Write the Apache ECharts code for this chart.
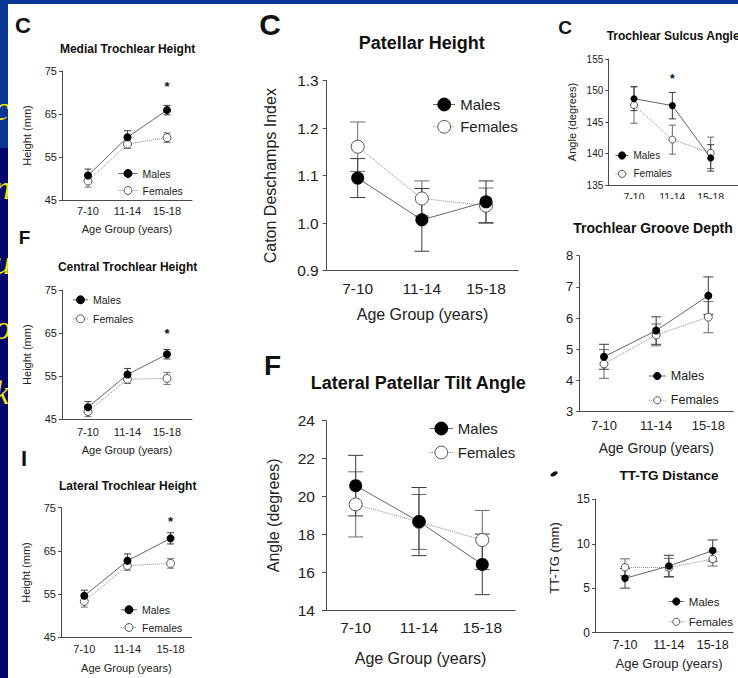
<!DOCTYPE html>
<html><head><meta charset="utf-8">
<script src="https://cdn.jsdelivr.net/npm/echarts@6/dist/echarts.min.js"></script>
<style>html,body{margin:0;padding:0;background:#fff}#c{width:738px;height:678px}</style>
</head><body><div id="c"></div>
<script>
// ---------- DATA ----------
const categories = ['7-10', '11-14', '15-18'];
const seriesNames = ['Males', 'Females'];

const medialMales = [50.7, 59.6, 65.9];
const medialMalesErr = [1.5, 1.5, 1.1];
const medialFemales = [49.4, 58.0, 59.5];
const medialFemalesErr = [1.4, 1.0, 1.1];
const medialStars = [[2, 71.3]];

const centralMales = [47.8, 55.4, 60.1];
const centralMalesErr = [1.3, 1.4, 1.1];
const centralFemales = [46.8, 54.3, 54.5];
const centralFemalesErr = [1.2, 1.0, 1.4];
const centralStars = [[2, 65.0]];

const lateralMales = [54.6, 62.7, 67.9];
const lateralMalesErr = [1.3, 1.6, 1.3];
const lateralFemales = [53.3, 61.6, 62.1];
const lateralFemalesErr = [1.3, 1.1, 1.1];
const lateralStars = [[2, 71.9]];

const patellarMales = [1.095, 1.007, 1.045];
const patellarMalesErr = [0.041, 0.066, 0.044];
const patellarFemales = [1.161, 1.052, 1.037];
const patellarFemalesErr = [0.052, 0.037, 0.037];

const tiltMales = [20.57, 18.67, 16.41];
const tiltMalesErr = [1.6, 1.8, 1.6];
const tiltFemales = [19.58, 18.65, 17.7];
const tiltFemalesErr = [1.72, 1.45, 1.56];

const sulcusMales = [148.7, 147.6, 139.3];
const sulcusMalesErr = [1.9, 2.1, 2.1];
const sulcusFemales = [147.7, 142.2, 140.1];
const sulcusFemalesErr = [2.9, 2.3, 2.5];
const sulcusStars = [[1, 151.8]];

const grooveMales = [4.76, 5.6, 6.72];
const grooveMalesErr = [0.4, 0.44, 0.6];
const grooveFemales = [4.53, 5.46, 6.03];
const grooveFemalesErr = [0.46, 0.35, 0.5];

const tttgMales = [6.11, 7.5, 9.23];
const tttgMalesErr = [1.1, 1.2, 1.2];
const tttgFemales = [7.35, 7.31, 8.29];
const tttgFemalesErr = [0.95, 1.05, 0.8];

const titles = ['Medial Trochlear Height', 'Central Trochlear Height', 'Lateral Trochlear Height',
  'Patellar Height', 'Lateral Patellar Tilt Angle', 'Trochlear Sulcus Angle', 'Trochlear Groove Depth', 'TT-TG Distance'];
const yNames = ['Height (mm)', 'Height (mm)', 'Height (mm)', 'Caton Deschamps Index', 'Angle (degrees)', 'Angle (degrees)', '', 'TT-TG (mm)'];
const xName = 'Age Group (years)';
const yRanges = [[45, 75, 10], [45, 75, 10], [45, 75, 10], [0.9, 1.3, 0.1], [14, 24, 2], [135, 155, 5], [3, 8, 1], [0, 15, 5]];
const panelLetters = ['C', 'F', 'I', 'C', 'F', 'C'];

// ---------- LAYOUT / STYLE ----------
const FONT = '"Liberation Sans", Arial, Helvetica, sans-serif';
const panelData = [
  [medialMales, medialMalesErr, medialFemales, medialFemalesErr, medialStars],
  [centralMales, centralMalesErr, centralFemales, centralFemalesErr, centralStars],
  [lateralMales, lateralMalesErr, lateralFemales, lateralFemalesErr, lateralStars],
  [patellarMales, patellarMalesErr, patellarFemales, patellarFemalesErr, []],
  [tiltMales, tiltMalesErr, tiltFemales, tiltFemalesErr, []],
  [sulcusMales, sulcusMalesErr, sulcusFemales, sulcusFemalesErr, sulcusStars],
  [grooveMales, grooveMalesErr, grooveFemales, grooveFemalesErr, []],
  [tttgMales, tttgMalesErr, tttgFemales, tttgFemalesErr, []]
];
const L = [
  {grid:[62,71,130,129], xr:[-0.658,2.633], xl:11, yl:11, nf:11, lf:10.5, xGap:23.5, yGap:29.5, xm:5.5, ym:5, sym:8, cap:7, leg:[118,168,19,10,6], tick:3, dec:0, sf:13, showX:true},
  {grid:[62,290,130,129.3], xr:[-0.658,2.633], xl:11, yl:11, nf:11, lf:10.5, xGap:25, yGap:29.5, xm:7, ym:5, sym:8, cap:7, leg:[72.5,294.3,15,10,8], tick:3, dec:0, sf:13, showX:true},
  {grid:[61,507.7,130.7,129.6], xr:[-0.54,2.49], xl:11, yl:11, nf:11, lf:10.5, xGap:25, yGap:29.5, xm:6, ym:5, sym:8, cap:7, leg:[120.5,604.3,16,10,6.7], tick:3, dec:0, sf:13, showX:true},
  {grid:[326.7,80.7,191.6,190], xr:[-0.483,2.503], xl:15.5, yl:15.5, nf:16, lf:15, xGap:36, yGap:48, xm:9.5, ym:8, sym:13, cap:15, leg:[432.7,97,22,16,7.3], tick:4, dec:1, sf:15, showX:true},
  {grid:[326,420.7,189,189.3], xr:[-0.469,2.517], xl:15.5, yl:15.5, nf:16, lf:15, xGap:40, yGap:44.7, xm:9.7, ym:11, sym:13, cap:15, leg:[429.3,421,23,16,9], tick:4, dec:0, sf:15, showX:true},
  {grid:[608.3,59,129.7,126], xr:[-0.671,2.713], xl:10.5, yl:10, nf:11, lf:10, xGap:30, yGap:31, xm:6.4, ym:5, sym:7, cap:7, leg:[615,150.5,13,9,8.3], tick:3, dec:0, sf:12, showX:false},
  {grid:[579.3,255.7,154,156], xr:[-0.473,2.479], xl:13, yl:13, nf:14, lf:12.5, xGap:29.6, yGap:0, xm:7.5, ym:6, sym:8, cap:10, leg:[648.3,369.5,17,9,11.3], tick:3, dec:0, sf:12, showX:true},
  {grid:[595,499.3,138,133.4], xr:[-0.685,2.463], xl:12.5, yl:12, nf:13, lf:11.5, xGap:24, yGap:34.5, xm:6, ym:5, sym:7.5, cap:10, leg:[668.3,595.5,15,9,8.3], tick:3, dec:0, sf:12, showX:true, xPad:[0,0,0,10], yPad:[0,0,0,16]}
];
const titlePos = [
  {x:127.6, y:49, fs:12, align:'center'}, {x:127.6, y:267, fs:12, align:'center'}, {x:127.7, y:486, fs:12, align:'center'},
  {x:421.7, y:42.7, fs:18, align:'center'}, {x:418.3, y:382.7, fs:18, align:'center'},
  {x:606.7, y:36, fs:12, align:'left'}, {x:573.3, y:227.7, fs:14, align:'left'}, {x:669, y:475, fs:13.5, align:'center'}
];
const letterPos = [
  {x:23, y:25, fs:22}, {x:24.5, y:237.7, fs:19}, {x:24, y:458, fs:22},
  {x:270, y:24.2, fs:30}, {x:272.5, y:365, fs:28}, {x:565, y:27, fs:19}
];

const AXIS = '#4a4a4a';
const MALE_LINE = '#666', FEMALE_LINE = '#8a8a8a';
const MALE_ERR = '#3a3a3a', FEMALE_ERR = '#6a6a6a';

const grids = [], xAxes = [], yAxes = [], series = [], legends = [];

function errSeries(i, vals, errs, color, cap) {
  return {
    type: 'custom', xAxisIndex: i, yAxisIndex: i, silent: true, z: 1,
    data: vals.map((v, k) => [k, v - errs[k], v + errs[k]]),
    renderItem: function (params, api) {
      const x = api.value(0);
      const lo = api.coord([x, api.value(1)]);
      const hi = api.coord([x, api.value(2)]);
      const hw = cap / 2;
      const st = {stroke: color, lineWidth: 1};
      return {type: 'group', children: [
        {type: 'line', shape: {x1: lo[0], y1: lo[1], x2: hi[0], y2: hi[1]}, style: st},
        {type: 'line', shape: {x1: lo[0] - hw, y1: lo[1], x2: lo[0] + hw, y2: lo[1]}, style: st},
        {type: 'line', shape: {x1: hi[0] - hw, y1: hi[1], x2: hi[0] + hw, y2: hi[1]}, style: st}
      ]};
    }
  };
}

panelData.forEach((pd, i) => {
  const l = L[i];
  const [males, malesErr, females, femalesErr, stars] = pd;
  const yr = yRanges[i];
  grids.push({left: l.grid[0], top: l.grid[1], width: l.grid[2], height: l.grid[3], containLabel: false});
  xAxes.push({
    type: 'value', gridIndex: i, min: l.xr[0], max: l.xr[1],
    axisLine: {show: true, onZero: false, lineStyle: {color: AXIS, width: 1}},
    axisTick: {show: false},
    splitLine: {show: false},
    axisLabel: {customValues: [0, 1, 2], formatter: v => categories[Math.round(v)], fontSize: l.xl, color: '#222', fontFamily: FONT, margin: l.xm},
    name: l.showX ? xName : '', nameLocation: 'middle', nameGap: l.xGap,
    nameTextStyle: {fontSize: l.nf, color: '#222', fontFamily: FONT, padding: l.xPad || 0}
  });
  yAxes.push({
    type: 'value', gridIndex: i, min: yr[0], max: yr[1], interval: yr[2],
    axisLine: {show: true, onZero: false, lineStyle: {color: AXIS, width: 1}},
    axisTick: {show: true, length: l.tick, lineStyle: {color: AXIS}},
    splitLine: {show: false},
    axisLabel: {fontSize: l.yl, color: '#222', fontFamily: FONT, margin: l.ym, formatter: v => v.toFixed(l.dec)},
    name: yNames[i], nameLocation: 'middle', nameGap: l.yGap,
    nameTextStyle: {fontSize: l.nf, color: '#222', fontFamily: FONT, padding: l.yPad || 0}
  });
  series.push(errSeries(i, females, femalesErr, FEMALE_ERR, l.cap));
  series.push(errSeries(i, males, malesErr, MALE_ERR, l.cap));
  series.push({
    type: 'line', name: seriesNames[1], xAxisIndex: i, yAxisIndex: i, z: 2,
    data: females.map((v, k) => [k, v]),
    symbol: 'circle', symbolSize: l.sym, showSymbol: true,
    itemStyle: {color: '#ffffff', borderColor: '#555', borderWidth: 1},
    lineStyle: {color: FEMALE_LINE, width: 1, type: 'dotted'},
    emphasis: {disabled: true}
  });
  series.push({
    type: 'line', name: seriesNames[0], xAxisIndex: i, yAxisIndex: i, z: 3,
    data: males.map((v, k) => [k, v]),
    symbol: 'circle', symbolSize: l.sym, showSymbol: true,
    itemStyle: {color: '#000000', borderColor: '#000', borderWidth: 0},
    lineStyle: {color: MALE_LINE, width: 1, type: 'solid'},
    emphasis: {disabled: true}
  });
  if (stars.length) {
    series.push({
      type: 'custom', xAxisIndex: i, yAxisIndex: i, silent: true, z: 4,
      data: stars,
      renderItem: function (params, api) {
        const p = api.coord([api.value(0), api.value(1)]);
        return {type: 'text', x: p[0], y: p[1], style: {text: '*', font: 'bold ' + l.sf + 'px ' + FONT,
          fill: '#111', align: 'center', verticalAlign: 'middle', textAlign: 'center', textVerticalAlign: 'middle'}};
      }
    });
  }
  legends.push({
    data: seriesNames, orient: 'vertical', left: l.leg[0], top: l.leg[1],
    itemWidth: l.leg[2], itemHeight: l.leg[3], itemGap: l.leg[4], padding: 0,
    selectedMode: false,
    itemStyle: {borderWidth: 1},
    lineStyle: {width: 1},
    textStyle: {fontSize: l.lf, color: '#222', fontFamily: FONT}
  });
});

// ---------- decorative texts / background ----------
const graphics = [
  {type: 'rect', shape: {x: 0, y: 0, width: 738, height: 4.5}, style: {fill: '#0b3794'}, z: -30, silent: true},
  {type: 'rect', shape: {x: 0, y: 0, width: 8, height: 148}, style: {fill: '#0b3794'}, z: -30, silent: true},
  {type: 'rect', shape: {x: 0, y: 148, width: 8, height: 530}, style: {fill: '#04066e'}, z: -30, silent: true}
];
[['c', 108], ['n', 187], ['u', 262], ['o', 327], ['k', 392]].forEach(([t, y]) => {
  graphics.push({type: 'text', x: -6, y: y, z: -20, silent: true,
    style: {text: t, font: 'italic 34px "Liberation Serif", serif', fill: '#f2e600', align: 'left', verticalAlign: 'middle', textAlign: 'left', textVerticalAlign: 'middle'}});
});
graphics.push({type: 'rect', shape: {x: 8, y: 4, width: 730, height: 674}, style: {fill: '#ffffff'}, z: -10, silent: true});
titles.forEach((t, i) => {
  const p = titlePos[i];
  graphics.push({type: 'text', x: p.x, y: p.y, z: 10, silent: true,
    style: {text: t, font: 'bold ' + p.fs + 'px ' + FONT, fill: '#111', align: p.align, verticalAlign: 'middle', textAlign: p.align, textVerticalAlign: 'middle'}});
});
panelLetters.forEach((t, i) => {
  const p = letterPos[i];
  graphics.push({type: 'text', x: p.x, y: p.y, z: 10, silent: true,
    style: {text: t, font: 'bold ' + p.fs + 'px ' + FONT, fill: '#111', align: 'center', verticalAlign: 'middle', textAlign: 'center', textVerticalAlign: 'middle'}});
});
// clipped area under the Trochlear Sulcus Angle panel
graphics.push({type: 'rect', shape: {x: 560, y: 199, width: 178, height: 8}, style: {fill: '#ffffff'}, z: 100, silent: true});
// small cut-off panel mark next to TT-TG title
graphics.push({type: 'ellipse', shape: {cx: 554, cy: 473.5, rx: 4, ry: 2}, rotation: 0.5, originX: 554, originY: 473.5, style: {fill: '#111'}, z: 10, silent: true});

const chart = echarts.init(document.getElementById('c'), null, {renderer: 'svg', width: 738, height: 678});
chart.setOption({
  animation: false,
  backgroundColor: 'transparent',
  grid: grids, xAxis: xAxes, yAxis: yAxes, series: series, legend: legends,
  graphic: {elements: graphics}
});
</script></body></html>
